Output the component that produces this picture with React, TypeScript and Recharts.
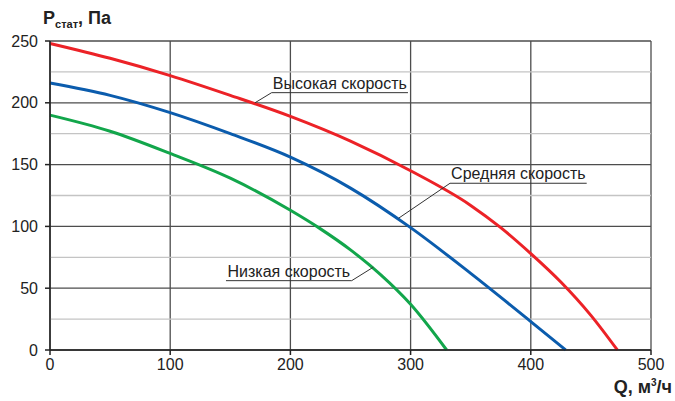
import { LineChart, Line, XAxis, YAxis, CartesianGrid, ReferenceLine } from "recharts";

// Fan curves: static pressure (Pa) vs air flow (m³/h)
const highFlow = [0, 50, 100, 150, 200, 250, 300, 350, 375, 400, 425, 450, 472];
const highPressure = [248, 236, 222, 206, 189, 169, 145, 117, 99, 78, 55, 28, 0];

const midFlow = [0, 50, 100, 150, 200, 250, 300, 350, 400, 429];
const midPressure = [216, 206, 192, 175, 156, 131, 99, 62, 23, 0];

const lowFlow = [0, 50, 100, 150, 200, 225, 250, 275, 300, 330];
const lowPressure = [190, 177, 159, 139, 113, 98, 81, 61, 37, 0];

const xTicks = [0, 100, 200, 300, 400, 500];
const yTicks = [0, 50, 100, 150, 200, 250];
const yMinor = [25, 75, 125, 175, 225];

// callouts: point on the curve, underline start, underline end (data units)
const calloutText = ["Высокая скорость", "Средняя скорость", "Низкая скорость"];
const calloutCurve = [
  { x: 170.5, y: 200 },
  { x: 290, y: 106.6 },
  { x: 269, y: 67 },
];
const calloutFrom = [
  { x: 184.4, y: 208.2 },
  { x: 332.8, y: 134.9 },
  { x: 251, y: 56.1 },
];
const calloutTo = [
  { x: 297.8, y: 208.2 },
  { x: 446.5, y: 134.9 },
  { x: 146.4, y: 56.1 },
];

const toPoints = (q: number[], p: number[]) => q.map((v, i) => ({ q: v, p: p[i] }));

const series = [
  { name: "high", color: "#ec2227", data: toPoints(highFlow, highPressure) },
  { name: "mid", color: "#0b5cad", data: toPoints(midFlow, midPressure) },
  { name: "low", color: "#12a64b", data: toPoints(lowFlow, lowPressure) },
];

const font = "'Liberation Sans', Arial, Helvetica, sans-serif";
const tickStyle = { fontSize: 16, fill: "#222", fontFamily: font };

export default function App() {
  return (
    <div style={{ position: "absolute", left: 0, top: 0, width: 675, height: 401, background: "#fff" }}>
      <LineChart width={675} height={401} margin={{ top: 41, right: 24, left: 0, bottom: 21 }}>
        <CartesianGrid stroke="#4d4d4d" strokeWidth={1.3} />
        {yMinor.map((v) => (
          <ReferenceLine key={v} y={v} stroke="#c4c4c4" strokeWidth={1.3} zIndex={-50} />
        ))}
        <XAxis
          type="number"
          dataKey="q"
          domain={[0, 500]}
          ticks={xTicks}
          allowDuplicatedCategory={false}
          height={30}
          tick={tickStyle}
          tickSize={5}
          tickMargin={4}
          stroke="#222"
          strokeWidth={1.5}
        />
        <YAxis
          type="number"
          dataKey="p"
          domain={[0, 250]}
          ticks={yTicks}
          width={50}
          tick={tickStyle}
          tickSize={5}
          tickMargin={7}
          stroke="#222"
          strokeWidth={1.5}
        />
        {series.map((s) => (
          <Line
            key={s.name}
            data={s.data}
            dataKey="p"
            type="monotone"
            stroke={s.color}
            strokeWidth={3}
            dot={false}
            isAnimationActive={false}
          />
        ))}
        {calloutText.map((t, i) => (
          <ReferenceLine
            key={"u" + i}
            segment={[calloutFrom[i], calloutTo[i]]}
            stroke="#333"
            strokeWidth={1}
            label={{ value: t, position: "top", offset: 4, fill: "#222", fontSize: 16, fontFamily: font }}
          />
        ))}
        {calloutText.map((t, i) => (
          <ReferenceLine
            key={"l" + i}
            segment={[calloutCurve[i], calloutFrom[i]]}
            stroke="#333"
            strokeWidth={1}
          />
        ))}
      </LineChart>
      <svg
        width={675}
        height={401}
        style={{ position: "absolute", left: 0, top: 0, pointerEvents: "none" }}
      >
        <text x={43} y={24} fontFamily={font} fontWeight="bold" fontSize={18} fill="#222">
          P
          <tspan fontSize={11} dy={4}>стат</tspan>
          <tspan fontSize={18} dy={-4}>, Па</tspan>
        </text>
        <text x={672} y={393} fontFamily={font} fontWeight="bold" fontSize={18} fill="#222" textAnchor="end">
          Q, м
          <tspan fontSize={10} dy={-7}>3</tspan>
          <tspan fontSize={18} dy={7}>/ч</tspan>
        </text>
      </svg>
    </div>
  );
}
